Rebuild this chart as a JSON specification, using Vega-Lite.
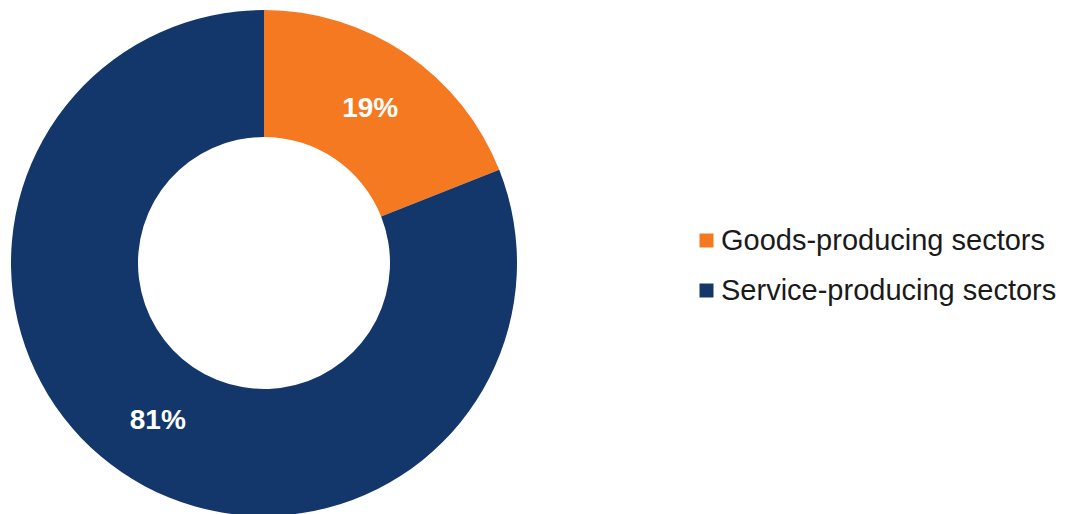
{
  "$schema": "https://vega.github.io/schema/vega-lite/v6.json",
  "width": 528,
  "height": 502,
  "autosize": {"type": "none"},
  "padding": {"left": 0, "top": 12, "right": 546, "bottom": 0},
  "background": "white",
  "config": {"view": {"stroke": null}, "font": "Liberation Sans"},
  "data": {
    "values": [
      {"sector": "Goods-producing sectors", "share": 19, "label": "19%", "ord": 1},
      {"sector": "Service-producing sectors", "share": 81, "label": "81%", "ord": 2}
    ]
  },
  "encoding": {
    "theta": {"field": "share", "type": "quantitative", "stack": true},
    "order": {"field": "ord", "type": "quantitative"}
  },
  "layer": [
    {
      "mark": {"type": "arc", "outerRadius": 253, "innerRadius": 126},
      "encoding": {
        "color": {
          "field": "sector",
          "type": "nominal",
          "scale": {"domain": ["Goods-producing sectors", "Service-producing sectors"], "range": ["#F47920", "#14376B"]},
          "legend": {
            "title": null,
            "orient": "none",
            "legendX": 692,
            "legendY": 214,
            "symbolType": "square",
            "symbolSize": 196,
            "symbolStrokeWidth": 0,
            "labelFont": "Liberation Sans",
            "labelFontSize": 29,
            "labelColor": "#1a1a1a",
            "labelOffset": 0,
            "rowPadding": 20,
            "labelLimit": 500
          }
        }
      }
    },
    {
      "mark": {"type": "text", "radius": 189, "dy": 2, "font": "Liberation Sans", "fontSize": 28, "fontWeight": "bold", "color": "white"},
      "encoding": {"text": {"field": "label", "type": "nominal"}}
    }
  ]
}
